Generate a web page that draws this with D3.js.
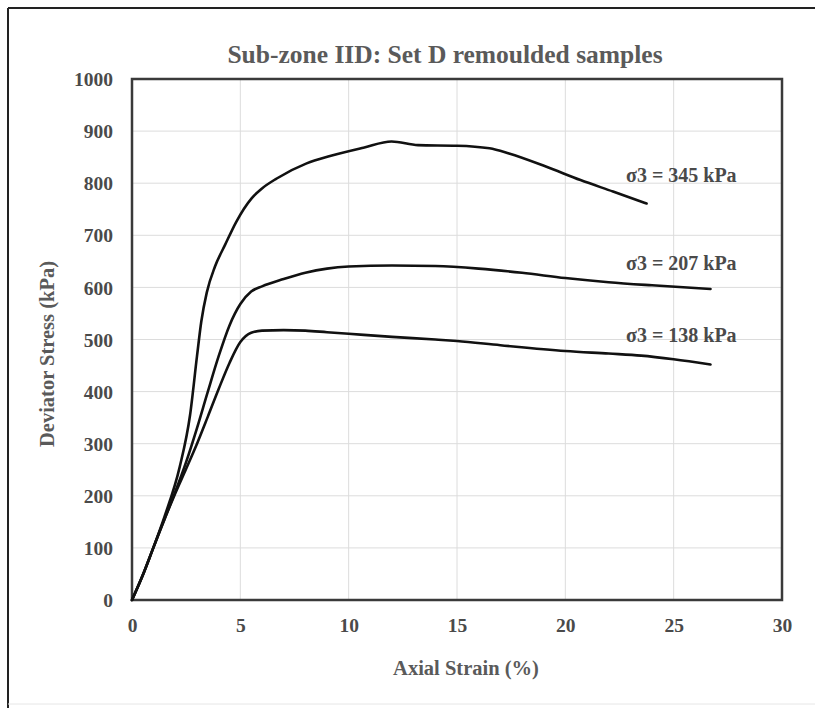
<!DOCTYPE html>
<html>
<head>
<meta charset="utf-8">
<script src="https://cdn.jsdelivr.net/npm/d3@7"></script>
<style>
  html, body { margin: 0; padding: 0; background: #fff; }
  svg { display: block; }
  text { font-family: "Liberation Serif", "Times New Roman", serif; font-weight: bold; }
</style>
</head>
<body>
<svg id="chart" width="815" height="708"></svg>
<script>
// ---- data ----
const title = "Sub-zone IID: Set D remoulded samples";
const xLabel = "Axial Strain (%)";
const yLabel = "Deviator Stress (kPa)";
const xTicks = [0, 5, 10, 15, 20, 25, 30];
const yTicks = [0, 100, 200, 300, 400, 500, 600, 700, 800, 900, 1000];

const strain345 = [0, 0.5, 1, 1.5, 2.2, 2.68, 3.0, 3.2, 3.45, 3.83, 4.3, 4.8, 5.52, 6.0, 6.68, 8.06, 9.14, 10.68, 11.98, 13.2, 15, 16.5, 17.4, 19.1, 20.7, 22.2, 23.75];
const stress345 = [0, 48, 102, 160, 255, 355, 468, 535, 590, 640, 682, 725, 771, 790, 809, 838, 852, 868, 880, 873, 872, 867, 857, 832, 806, 784, 761];

const strain207 = [0, 0.5, 1, 1.5, 2, 2.5, 3, 3.5, 4, 4.5, 5, 5.5, 6, 7, 8, 9, 10, 12, 14, 16, 18, 20, 22, 24, 26.7];
const stress207 = [0, 48, 102, 155, 208, 265, 330, 400, 468, 527, 568, 592, 602, 616, 628, 636, 640, 642, 641, 636, 628, 618, 610, 604, 597];

const strain138 = [0, 0.5, 1, 1.5, 2, 2.5, 3, 3.5, 4, 4.5, 5, 5.5, 6, 7, 8, 9, 10, 12, 14, 15, 17, 20, 22, 23.5, 25, 26.7];
const stress138 = [0, 48, 102, 155, 205, 252, 300, 352, 405, 455, 495, 513, 517, 518, 517, 514, 511, 505, 500, 497, 489, 478, 473, 469, 462, 452];

const seriesNames = ["σ3 = 345 kPa", "σ3 = 207 kPa", "σ3 = 138 kPa"];
const labelX = [22.8, 22.8, 22.8];
const labelY = [802, 633, 495];

// ---- layout ----
const svg = d3.select("#chart");
const pLeft = 132, pRight = 782, pTop = 79, pBottom = 600;
const x = d3.scaleLinear().domain([0, 30]).range([pLeft, pRight]);
const y = d3.scaleLinear().domain([0, 1000]).range([pBottom, pTop]);

// outer frame
svg.append("line").attr("x1", 8).attr("x2", 815).attr("y1", 8).attr("y2", 8)
  .attr("stroke", "#222").attr("stroke-width", 2);
svg.append("line").attr("x1", 8).attr("x2", 8).attr("y1", 8).attr("y2", 708)
  .attr("stroke", "#222").attr("stroke-width", 2);
svg.append("line").attr("x1", 8).attr("x2", 815).attr("y1", 704).attr("y2", 704)
  .attr("stroke", "#e6e6e6").attr("stroke-width", 1);

// gridlines
svg.append("g").selectAll("line").data(xTicks).join("line")
  .attr("x1", d => x(d)).attr("x2", d => x(d)).attr("y1", pTop).attr("y2", pBottom)
  .attr("stroke", "#dcdcdc").attr("stroke-width", 1);
svg.append("g").selectAll("line").data(yTicks).join("line")
  .attr("x1", pLeft).attr("x2", pRight).attr("y1", d => y(d)).attr("y2", d => y(d))
  .attr("stroke", "#dcdcdc").attr("stroke-width", 1);

// axes (labels only, via d3 axis)
const xAxis = svg.append("g").attr("transform", `translate(0,${pBottom})`)
  .call(d3.axisBottom(x).tickValues(xTicks).tickSize(0).tickPadding(32).tickFormat(d3.format("d")));
const yAxis = svg.append("g").attr("transform", `translate(${pLeft},0)`)
  .call(d3.axisLeft(y).tickValues(yTicks).tickSize(0).tickPadding(19).tickFormat(d3.format("d")));
[xAxis, yAxis].forEach(g => {
  g.select(".domain").remove();
  g.selectAll("text").attr("font-family", "Liberation Serif, serif").attr("font-weight", "bold")
    .attr("font-size", 19.5).attr("fill", "#4a4a4a");
});
yAxis.selectAll("text").attr("dy", "0.34em");
xAxis.selectAll("text").attr("dy", "0");

// plot border
svg.append("rect").attr("x", pLeft).attr("y", pTop).attr("width", pRight - pLeft).attr("height", pBottom - pTop)
  .attr("fill", "none").attr("stroke", "#3a3a3a").attr("stroke-width", 2.5);

// curves
const line = d3.line().x(d => x(d[0])).y(d => y(d[1])).curve(d3.curveMonotoneX);
const series = [
  d3.zip(strain345, stress345),
  d3.zip(strain207, stress207),
  d3.zip(strain138, stress138)
];
svg.append("g").selectAll("path").data(series).join("path")
  .attr("d", line).attr("fill", "none").attr("stroke", "#111").attr("stroke-width", 2.6)
  .attr("stroke-linejoin", "round").attr("stroke-linecap", "round");

// series labels
svg.append("g").selectAll("text").data(seriesNames).join("text")
  .attr("x", (d, i) => x(labelX[i])).attr("y", (d, i) => y(labelY[i]))
  .attr("font-size", 20).attr("fill", "#4a4a4a").text(d => d);

// title
svg.append("text").attr("x", 445).attr("y", 63).attr("text-anchor", "middle")
  .attr("font-size", 25.5).attr("fill", "#5a5a5a").text(title);

// axis titles
svg.append("text").attr("x", 466).attr("y", 675).attr("text-anchor", "middle")
  .attr("font-size", 20.5).attr("fill", "#5a5a5a").text(xLabel);
svg.append("text").attr("transform", "translate(54,354) rotate(-90)").attr("text-anchor", "middle")
  .attr("font-size", 20.5).attr("fill", "#5a5a5a").text(yLabel);
</script>
</body>
</html>
